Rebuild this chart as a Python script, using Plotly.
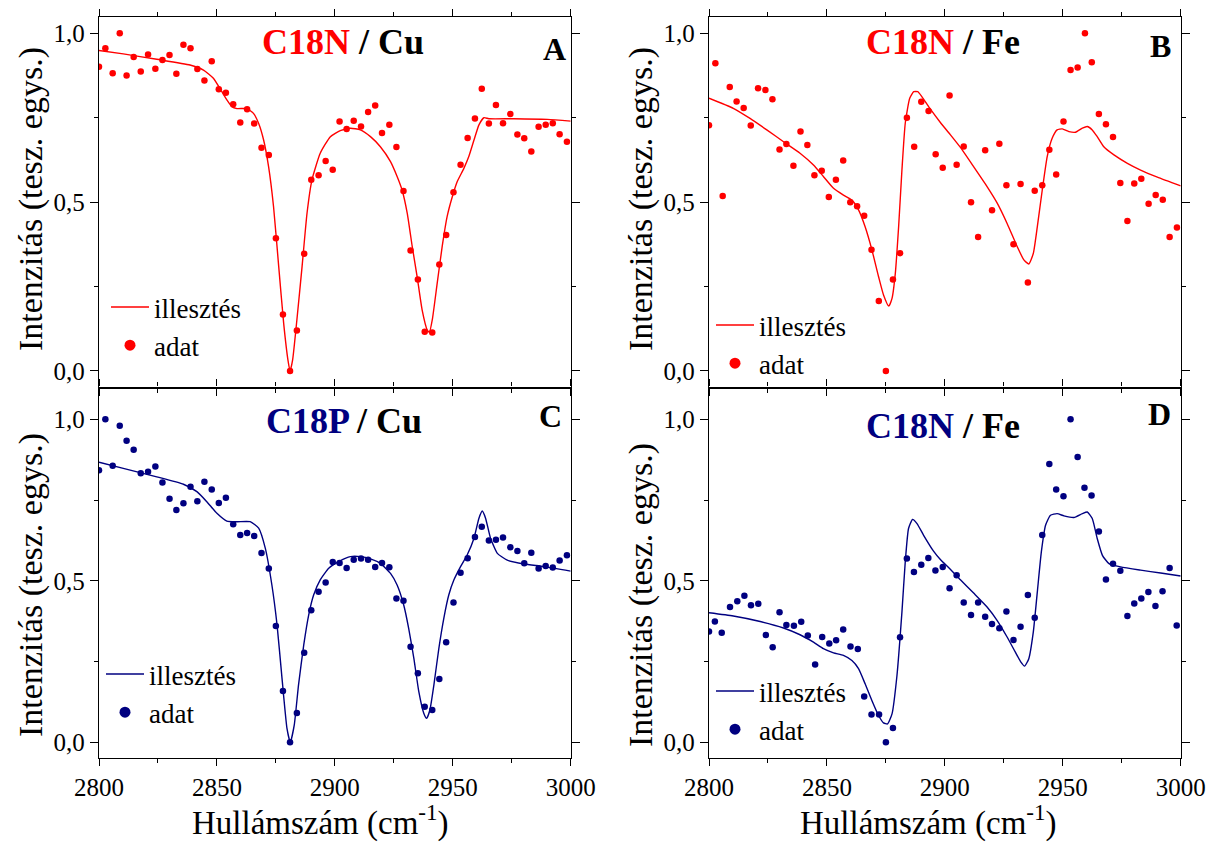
import plotly.graph_objects as go

RED = "#ff0000"
NAVY = "#000080"
FONT = "Liberation Serif, Times New Roman, serif"

# ---------------- Panel A: C18N / Cu ----------------
a_x = [2800.0, 2802.7, 2805.8, 2808.8, 2811.7, 2814.7, 2817.7, 2820.8, 2823.9, 2826.9,
       2829.9, 2832.8, 2835.8, 2838.8, 2841.7, 2844.7, 2847.8, 2850.8, 2853.8, 2856.9,
       2859.9, 2862.8, 2865.8, 2868.9, 2872.0, 2875.0, 2878.0, 2881.0, 2883.9, 2887.0,
       2890.0, 2893.1, 2896.1, 2899.1, 2902.0, 2905.0, 2908.0, 2911.1, 2914.1, 2917.1,
       2920.0, 2923.1, 2926.1, 2929.1, 2932.1, 2935.2, 2938.1, 2941.3, 2944.3, 2947.2,
       2950.3, 2953.3, 2956.3, 2959.4, 2962.3, 2965.3, 2968.3, 2971.3, 2974.4, 2977.4,
       2980.3, 2983.3, 2986.4, 2989.4, 2992.4, 2995.3, 2998.4]
a_y = [0.901, 0.956, 0.882, 1.000, 0.875, 0.930, 0.887, 0.937, 0.895, 0.921,
       0.936, 0.880, 0.966, 0.956, 0.894, 0.860, 0.917, 0.834, 0.824, 0.790,
       0.736, 0.775, 0.733, 0.661, 0.640, 0.393, 0.167, 0.000, 0.120, 0.347,
       0.566, 0.580, 0.622, 0.596, 0.739, 0.717, 0.741, 0.724, 0.767, 0.786,
       0.705, 0.729, 0.663, 0.533, 0.357, 0.271, 0.116, 0.114, 0.315, 0.403,
       0.529, 0.611, 0.690, 0.748, 0.836, 0.733, 0.788, 0.734, 0.761, 0.700,
       0.689, 0.650, 0.723, 0.729, 0.734, 0.701, 0.679]
a_fit_x = [2800.0, 2810.3, 2824.5, 2838.6, 2844.3, 2848.5, 2852.1, 2854.2, 2856.3, 2858.5,
           2862.7, 2865.5, 2867.7, 2869.8, 2871.9, 2874.0, 2876.2, 2878.3, 2880.1, 2881.0,
           2882.1, 2883.9, 2886.1, 2888.2, 2890.3, 2893.8, 2898.1, 2902.3, 2906.6, 2910.8,
           2915.1, 2919.3, 2923.6, 2926.4, 2928.5, 2930.7, 2932.8, 2934.9, 2937.0, 2939.2,
           2940.1, 2941.3, 2943.4, 2945.5, 2947.6, 2949.8, 2951.9, 2954.7, 2956.8, 2959.0,
           2961.1, 2963.2, 2965.3, 2975.9, 2990.1, 3000.0]
a_fit_y = [0.949, 0.939, 0.923, 0.906, 0.891, 0.867, 0.827, 0.803, 0.783, 0.777,
           0.777, 0.763, 0.733, 0.684, 0.605, 0.487, 0.309, 0.141, 0.033, 0.000,
           0.033, 0.151, 0.309, 0.467, 0.566, 0.645, 0.694, 0.712, 0.719, 0.714,
           0.694, 0.664, 0.620, 0.576, 0.536, 0.467, 0.369, 0.279, 0.181, 0.121,
           0.115, 0.151, 0.260, 0.368, 0.457, 0.516, 0.561, 0.600, 0.635, 0.684,
           0.729, 0.750, 0.747, 0.747, 0.745, 0.740]

# ---------------- Panel B: C18N / Fe ----------------
b_x = a_x
b_y = [0.728, 0.911, 0.518, 0.841, 0.798, 0.779, 0.727, 0.837, 0.832, 0.805,
       0.656, 0.672, 0.608, 0.709, 0.669, 0.580, 0.593, 0.515, 0.566, 0.623,
       0.500, 0.488, 0.460, 0.359, 0.207, 0.000, 0.271, 0.349, 0.750, 0.664,
       0.797, 0.770, 0.642, 0.602, 0.816, 0.611, 0.665, 0.500, 0.397, 0.654,
       0.476, 0.673, 0.550, 0.375, 0.554, 0.262, 0.534, 0.550, 0.655, 0.582,
       0.739, 0.891, 0.899, 1.000, 0.914, 0.761, 0.731, 0.693, 0.557, 0.444,
       0.555, 0.569, 0.495, 0.521, 0.507, 0.397, 0.425]
b_fit_x = [2800.0, 2810.3, 2817.4, 2824.5, 2831.6, 2838.6, 2844.3, 2848.5, 2852.8, 2857.0,
           2860.6, 2863.4, 2866.2, 2869.1, 2871.9, 2874.0, 2876.2, 2877.6, 2879.0, 2880.4,
           2881.8, 2883.2, 2885.1, 2886.8, 2888.5, 2890.3, 2893.8, 2898.1, 2902.3, 2906.6,
           2912.2, 2917.9, 2922.2, 2926.4, 2930.7, 2933.5, 2935.6, 2937.5, 2939.2, 2941.3,
           2943.4, 2945.5, 2947.6, 2949.8, 2952.6, 2955.4, 2958.3, 2960.4, 2962.5, 2964.6,
           2967.4, 2971.7, 2977.4, 2983.0, 2990.1, 3000.0]
b_fit_y = [0.808, 0.778, 0.748, 0.714, 0.679, 0.645, 0.610, 0.576, 0.541, 0.521,
           0.506, 0.477, 0.427, 0.358, 0.279, 0.225, 0.192, 0.215, 0.289, 0.427,
           0.595, 0.733, 0.808, 0.827, 0.827, 0.812, 0.776, 0.736, 0.700, 0.662,
           0.605, 0.546, 0.497, 0.437, 0.368, 0.329, 0.317, 0.348, 0.427, 0.536,
           0.635, 0.689, 0.714, 0.717, 0.709, 0.707, 0.719, 0.724, 0.714, 0.694,
           0.664, 0.640, 0.615, 0.595, 0.574, 0.548]

# ---------------- Panel C: C18P / Cu ----------------
c_x = a_x
c_y = [0.842, 1.000, 0.856, 0.980, 0.934, 0.906, 0.833, 0.838, 0.854, 0.804,
       0.754, 0.719, 0.740, 0.791, 0.746, 0.807, 0.783, 0.741, 0.757, 0.675,
       0.642, 0.648, 0.639, 0.586, 0.538, 0.360, 0.159, 0.000, 0.091, 0.277,
       0.409, 0.466, 0.495, 0.558, 0.555, 0.540, 0.565, 0.569, 0.565, 0.543,
       0.555, 0.542, 0.445, 0.438, 0.296, 0.214, 0.110, 0.100, 0.196, 0.310,
       0.433, 0.525, 0.570, 0.636, 0.667, 0.625, 0.627, 0.634, 0.604, 0.592,
       0.554, 0.587, 0.538, 0.546, 0.541, 0.563, 0.579]
c_fit_x = [2800.0, 2810.3, 2824.5, 2835.8, 2841.5, 2845.7, 2850.0, 2854.2, 2858.5, 2864.1,
           2867.7, 2870.5, 2873.3, 2875.5, 2877.6, 2879.7, 2881.1, 2882.8, 2884.6, 2886.8,
           2888.9, 2891.0, 2893.8, 2897.4, 2902.0, 2906.6, 2910.8, 2915.1, 2919.3, 2923.6,
           2926.4, 2929.2, 2931.3, 2933.5, 2935.6, 2937.7, 2938.9, 2940.3, 2942.0, 2944.1,
           2946.2, 2948.3, 2950.5, 2953.3, 2956.1, 2959.0, 2961.1, 2962.5, 2963.9, 2966.0,
           2968.9, 2973.1, 2980.2, 2988.7, 3000.0]
c_fit_y = [0.867, 0.848, 0.822, 0.799, 0.776, 0.745, 0.709, 0.685, 0.683, 0.683,
           0.663, 0.601, 0.487, 0.363, 0.198, 0.043, 0.000, 0.054, 0.178, 0.301,
           0.394, 0.456, 0.503, 0.539, 0.561, 0.575, 0.575, 0.568, 0.554, 0.523,
           0.487, 0.425, 0.353, 0.260, 0.157, 0.090, 0.074, 0.100, 0.178, 0.291,
           0.384, 0.456, 0.503, 0.544, 0.580, 0.632, 0.694, 0.716, 0.694, 0.632,
           0.585, 0.564, 0.552, 0.544, 0.530]

# ---------------- Panel D: C18N / Fe ----------------
d_x = [2800.0, 2802.5, 2805.4, 2808.9, 2812.0, 2815.0, 2817.8, 2820.9, 2824.1, 2827.0,
       2829.9, 2832.8, 2836.0, 2839.1, 2841.9, 2845.0, 2848.0, 2851.0, 2853.9, 2856.9,
       2860.0, 2863.1, 2865.8, 2868.9, 2872.1, 2875.0, 2878.0, 2881.0, 2883.9, 2886.9,
       2890.0, 2893.0, 2896.0, 2899.1, 2902.0, 2905.0, 2908.0, 2911.1, 2914.1, 2917.1,
       2920.0, 2923.1, 2926.1, 2929.1, 2932.1, 2935.2, 2938.1, 2941.3, 2944.3, 2947.2,
       2950.3, 2953.3, 2956.3, 2959.2, 2962.2, 2965.3, 2968.3, 2971.3, 2974.4, 2977.4,
       2980.3, 2983.3, 2986.3, 2989.3, 2992.3, 2995.3, 2998.3]
d_y = [0.343, 0.374, 0.339, 0.419, 0.437, 0.454, 0.424, 0.429, 0.332, 0.294,
       0.403, 0.363, 0.361, 0.373, 0.331, 0.241, 0.326, 0.306, 0.316, 0.349,
       0.297, 0.289, 0.142, 0.086, 0.086, 0.000, 0.044, 0.325, 0.569, 0.527,
       0.550, 0.571, 0.532, 0.543, 0.477, 0.517, 0.433, 0.394, 0.433, 0.389,
       0.366, 0.353, 0.405, 0.317, 0.358, 0.456, 0.386, 0.642, 0.862, 0.783,
       0.762, 1.000, 0.883, 0.788, 0.764, 0.653, 0.504, 0.553, 0.531, 0.391,
       0.430, 0.445, 0.465, 0.422, 0.468, 0.540, 0.362]
d_fit_x = [2800.0, 2810.3, 2821.7, 2831.6, 2838.6, 2844.3, 2848.5, 2852.8, 2857.0, 2860.6,
           2863.4, 2866.2, 2869.1, 2871.9, 2874.0, 2875.7, 2877.6, 2879.7, 2881.8, 2883.2,
           2884.6, 2886.3, 2888.2, 2891.0, 2895.2, 2898.1, 2902.0, 2906.6, 2912.2, 2917.9,
           2922.2, 2926.4, 2929.9, 2932.1, 2933.8, 2935.6, 2937.5, 2939.2, 2940.9, 2942.7,
           2944.8, 2947.6, 2950.5, 2954.7, 2958.3, 2960.4, 2962.5, 2964.6, 2966.8, 2969.6,
           2974.5, 2983.0, 2991.5, 3000.0]
d_fit_y = [0.401, 0.391, 0.374, 0.354, 0.333, 0.310, 0.290, 0.277, 0.269, 0.253,
           0.228, 0.181, 0.129, 0.083, 0.060, 0.057, 0.088, 0.207, 0.403, 0.558,
           0.662, 0.690, 0.677, 0.641, 0.592, 0.566, 0.538, 0.503, 0.462, 0.419,
           0.377, 0.326, 0.279, 0.250, 0.236, 0.259, 0.341, 0.465, 0.589, 0.672,
           0.703, 0.708, 0.701, 0.696, 0.708, 0.713, 0.693, 0.631, 0.579, 0.553,
           0.543, 0.533, 0.524, 0.515]

x_ticks = [2800, 2850, 2900, 2950, 3000]
x_tick_text = ["2800", "2850", "2900", "2950", "3000"]
y_ticks = [0.0, 0.5, 1.0]
y_tick_text = ["0,0", "0,5", "1,0"]
legend_names = ["illesztés", "adat"]

W, H = 1208, 843
def px(v):
    return v / W
def py(v):
    return 1 - v / H

fig = go.Figure()

panels = [
    (a_x, a_y, a_fit_x, a_fit_y, RED, "", "legend"),
    (b_x, b_y, b_fit_x, b_fit_y, RED, "2", "legend2"),
    (c_x, c_y, c_fit_x, c_fit_y, NAVY, "3", "legend3"),
    (d_x, d_y, d_fit_x, d_fit_y, NAVY, "4", "legend4"),
]

for dx, dy, fx, fy, col, s, lg in panels:
    fig.add_trace(go.Scatter(x=fx, y=fy, mode="lines",
                             line=dict(color=col, width=1.4, shape="spline", smoothing=0.5),
                             name=legend_names[0], xaxis="x" + s, yaxis="y" + s, legend=lg))
    fig.add_trace(go.Scatter(x=dx, y=dy, mode="markers", marker=dict(color=col, size=6.5),
                             name=legend_names[1], xaxis="x" + s, yaxis="y" + s, legend=lg,
                             showlegend=False))
    # legend entry only (larger symbol, as in the reference legend)
    fig.add_trace(go.Scatter(x=[None], y=[None], mode="markers", marker=dict(color=col, size=11),
                             name=legend_names[1], xaxis="x" + s, yaxis="y" + s, legend=lg))

left_dom = [px(99), px(570.7)]
right_dom = [px(709), px(1180.7)]
top_dom = [py(387.5), py(16.7)]
bot_dom = [py(758.3), py(387.5)]

def xaxis(dom, labels, anchor):
    return dict(domain=dom, range=[2800, 3000], anchor=anchor, automargin=False,
                tickmode="array", tickvals=x_ticks, ticktext=x_tick_text,
                showticklabels=labels, ticks="outside", ticklen=7, tickwidth=1.2, tickcolor="black",
                minor=dict(dtick=25, tick0=2800, ticks="outside", ticklen=4, tickwidth=1.2, tickcolor="black"),
                showline=True, linecolor="black", linewidth=1.3, mirror="ticks",
                showgrid=False, zeroline=False,
                tickfont=dict(family=FONT, size=25, color="black"))

def yaxis(dom, rng, anchor):
    return dict(domain=dom, range=rng, anchor=anchor, automargin=False,
                tickmode="array", tickvals=y_ticks, ticktext=y_tick_text,
                ticks="outside", ticklen=8, tickwidth=1.2, tickcolor="black",
                minor=dict(tickmode="array", tickvals=[0.25, 0.75], ticks="outside", ticklen=4,
                           tickwidth=1.2, tickcolor="black"),
                showline=True, linecolor="black", linewidth=1.3, mirror="ticks",
                showgrid=False, zeroline=False,
                tickfont=dict(family=FONT, size=25, color="black"))

top_rng = [-0.0489, 1.0492]
bot_rng = [-0.0495, 1.0985]

def legend(x, y):
    return dict(x=px(x), y=py(y), xanchor="left", yanchor="top", bgcolor="rgba(0,0,0,0)",
                font=dict(family=FONT, size=27, color="black"), tracegroupgap=0,
                borderwidth=0, itemwidth=38)

fig.update_layout(
    template="none",
    width=W, height=H, margin=dict(l=0, r=0, t=0, b=0, autoexpand=False),
    paper_bgcolor="white", plot_bgcolor="white",
    font=dict(family=FONT, color="black"),
    xaxis=xaxis(left_dom, False, "y"), yaxis=yaxis(top_dom, top_rng, "x"),
    xaxis2=xaxis(right_dom, False, "y2"), yaxis2=yaxis(top_dom, top_rng, "x2"),
    xaxis3=xaxis(left_dom, True, "y3"), yaxis3=yaxis(bot_dom, bot_rng, "x3"),
    xaxis4=xaxis(right_dom, True, "y4"), yaxis4=yaxis(bot_dom, bot_rng, "x4"),
    legend=legend(106, 283),
    legend2=legend(711, 301),
    legend3=legend(101, 650),
    legend4=legend(711, 667),
)

ann = []
def title(x, y, name, col, metal):
    ann.append(dict(xref="paper", yref="paper", x=px(x), y=py(y), xanchor="left", yanchor="middle",
                    showarrow=False,
                    text=f"<b><span style='color:{col}'>{name}</span> / {metal}</b>",
                    font=dict(family=FONT, size=36, color="black")))

def letter(x, y, t):
    ann.append(dict(xref="paper", yref="paper", x=px(x), y=py(y), xanchor="right", yanchor="middle",
                    showarrow=False, text=f"<b>{t}</b>", font=dict(family=FONT, size=32, color="black")))

def ytitle(x, y):
    ann.append(dict(xref="paper", yref="paper", x=px(x), y=py(y), xanchor="center", yanchor="middle",
                    showarrow=False, textangle=-90, text="Intenzitás (tesz. egys.)",
                    font=dict(family=FONT, size=34, color="black")))

def xtitle(x, y):
    ann.append(dict(xref="paper", yref="paper", x=px(x), y=py(y), xanchor="center", yanchor="middle",
                    showarrow=False, text="Hullámszám (cm<sup>-1</sup>)",
                    font=dict(family=FONT, size=33, color="black")))

title(260, 42, "C18N", RED, "Cu")
title(864, 42, "C18N", RED, "Fe")
title(264, 421, "C18P", NAVY, "Cu")
title(864, 426, "C18N", NAVY, "Fe")
letter(568, 49, "A")
letter(1173, 46, "B")
letter(564, 416, "C")
letter(1173, 414, "D")
ytitle(31, 199)
ytitle(31, 585)
ytitle(641, 199)
ytitle(641, 595)
xtitle(320, 820)
xtitle(928, 820)

fig.update_layout(annotations=ann)
fig.write_html("out.html")
